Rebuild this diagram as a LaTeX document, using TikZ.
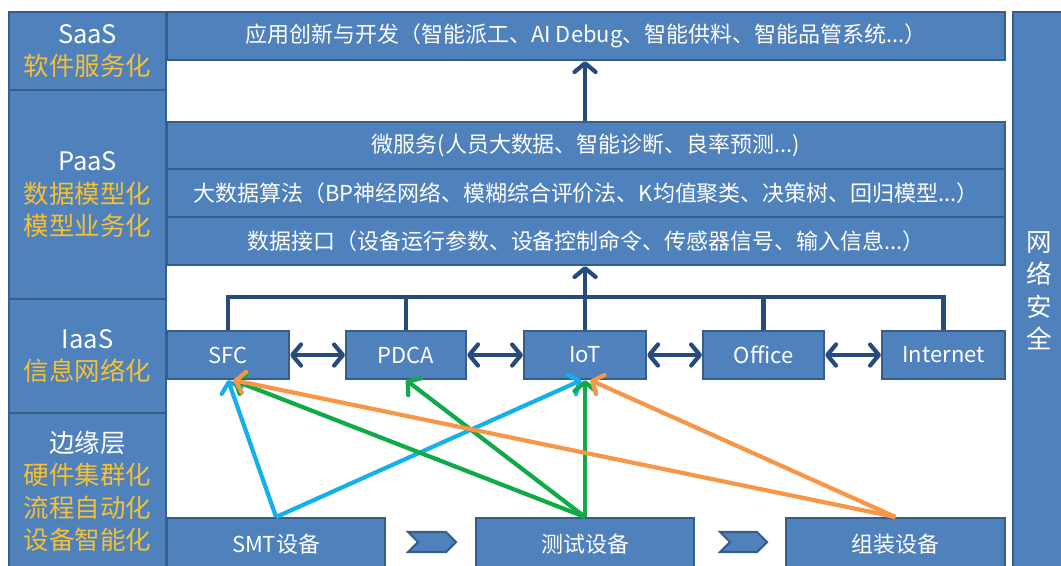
\documentclass[tikz,border=0pt]{standalone}
\usepackage{fontspec}
\setmainfont{Noto Sans CJK SC}
\usetikzlibrary{arrows.meta}
\definecolor{boxblue}{HTML}{4F81BD}
\definecolor{lineblue}{HTML}{385D8A}
\definecolor{busblue}{HTML}{264B7C}
\definecolor{gold}{HTML}{F5C033}
\definecolor{skyarrow}{HTML}{14B0EC}
\definecolor{greenarrow}{HTML}{10AA48}
\definecolor{orangearrow}{HTML}{F79646}
\tikzset{
  wh/.style 2 args={minimum width=#1*0.02cm,minimum height=#2*0.02cm},
  layer/.style={draw=lineblue,fill=boxblue,line width=1.2pt,text=white,
    inner sep=0pt,anchor=north west,font=\fontsize{12.5}{14}\selectfont},
  side/.style={layer,align=center,font=\fontsize{14.5}{18.5}\selectfont},
  tip/.tip={Straight Barb[length=5pt,width=12pt,line cap=round,line join=round]},
  bus/.style={draw=busblue,line width=2.4pt},
  feed/.style={line width=2.4pt,-tip}
}
\begin{document}
\begin{tikzpicture}[x=0.02cm,y=-0.02cm]
  \useasboundingbox (0,0) rectangle (1061,565);
  % layer names on the left
  \begin{scope}[every node/.style={side}]
    \node[wh={157}{78}] (saas) at (8,11) {SaaS\\\textcolor{gold}{软件服务化}};
    \node[wh={157}{209}] (paas) at (8,89) {PaaS\\\textcolor{gold}{数据模型化}\\\textcolor{gold}{模型业务化}};
    \node[wh={157}{114}] (iaas) at (8,298) {IaaS\\\textcolor{gold}{信息网络化}};
    \node[wh={157}{157}] (edgelayer) at (8,412) {边缘层\\\textcolor{gold}{硬件集群化}\\\textcolor{gold}{流程自动化}\\\textcolor{gold}{设备智能化}};
    \node[wh={53}{557}] (security) at (1012,11) {网\\络\\安\\全};
  \end{scope}
  % platform layers
  \begin{scope}[every node/.style={layer}]
    \node[wh={838}{48}] (app) at (166,11) {应用创新与开发（智能派工、AI Debug、智能供料、智能品管系统...）};
    \node[wh={838}{47}] (micro) at (166,121) {微服务(人员大数据、智能诊断、良率预测...)};
    \node[wh={838}{48}] (algo) at (166,168) {大数据算法（BP神经网络、模糊综合评价法、K均值聚类、决策树、回归模型...）};
    \node[wh={838}{48}] (iface) at (166,216) {数据接口（设备运行参数、设备控制命令、传感器信号、输入信息...）};
    \node[wh={122}{48}] (sfc) at (166,330) {SFC};
    \node[wh={120}{48}] (pdca) at (345,330) {PDCA};
    \node[wh={122}{48}] (iot) at (523,330) {IoT};
    \node[wh={121}{48}] (office) at (702,330) {Office};
    \node[wh={123}{48}] (internet) at (881,330) {Internet};
    \node[wh={218}{52}] (smt) at (166,517) {SMT设备};
    \node[wh={218}{52}] (test) at (475,517) {测试设备};
    \node[wh={219}{52}] (assembly) at (785,517) {组装设备};
  \end{scope}
  % process chevrons
  \begin{scope}[draw=lineblue,fill=boxblue,line width=1.2pt]
    \filldraw (408,532) -- (446,532) -- (456,542) -- (446,552) -- (408,552) -- (418,542) -- cycle;
    \filldraw (720,532) -- (757,532) -- (767,542) -- (757,552) -- (720,552) -- (730,542) -- cycle;
  \end{scope}
  % bus and links
  \coordinate (rail) at (0,297);
  \draw[bus] (sfc.north) -- (sfc.north |- rail) -- (internet.north |- rail) -- (internet.north);
  \foreach \n in {pdca,iot,office}
    \draw[bus] (\n.north) -- (\n.north |- rail);
  \draw[bus,-tip] (iot.north |- rail) -- (iface.south -| iot.north);
  \draw[bus,-tip] (micro.north -| iot.north) -- (app.south -| iot.north);
  \begin{scope}[every edge/.style={draw,bus,tip-tip}]
    \path (sfc) edge (pdca);
    \path (pdca) edge (iot);
    \path (iot) edge (office);
    \path (office) edge (internet);
  \end{scope}
  % device feeds
  \begin{scope}[every edge/.style={draw,feed}]
    \path[skyarrow] (smt.north) edge (sfc.south) edge ([xshift=-2pt]iot.south);
    \path[greenarrow] (test.north) edge ([xshift=3pt]sfc.south) edge (pdca.south) edge (iot.south);
    \path[orangearrow] (assembly.north) edge ([xshift=3pt]sfc.south) edge ([xshift=3pt]iot.south);
  \end{scope}
\end{tikzpicture}
\end{document}
